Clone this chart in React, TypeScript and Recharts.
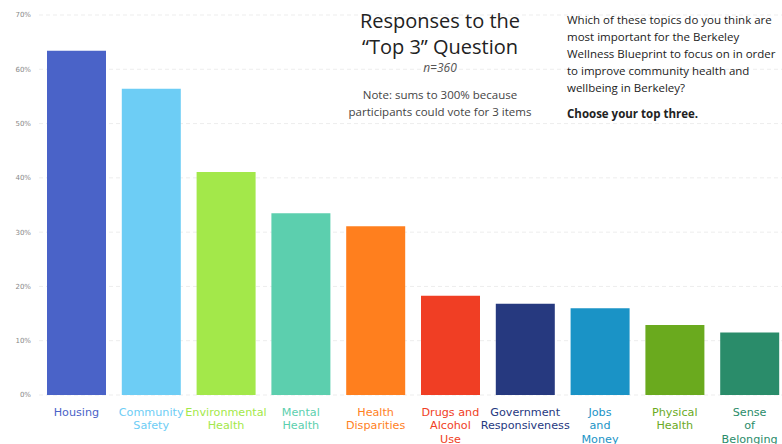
import React from 'react';
import { BarChart, Bar, XAxis, YAxis, CartesianGrid, Cell } from 'recharts';

const topics = [
  'Housing',
  'Community Safety',
  'Environmental Health',
  'Mental Health',
  'Health Disparities',
  'Drugs and Alcohol Use',
  'Government Responsiveness',
  'Jobs and Money',
  'Physical Health',
  'Sense of Belonging',
];

const labelLines = [
  ['Housing'],
  ['Community', 'Safety'],
  ['Environmental', 'Health'],
  ['Mental', 'Health'],
  ['Health', 'Disparities'],
  ['Drugs and', 'Alcohol', 'Use'],
  ['Government', 'Responsiveness'],
  ['Jobs', 'and', 'Money'],
  ['Physical', 'Health'],
  ['Sense', 'of', 'Belonging'],
];

const shares = [63.4, 56.4, 41.1, 33.5, 31.1, 18.3, 16.8, 16.0, 12.9, 11.5];

const colors = [
  '#4a63c8',
  '#6dcdf5',
  '#a3e84a',
  '#5ccfae',
  '#ff7f1e',
  '#f03e24',
  '#26397f',
  '#1a93c6',
  '#6aaa1e',
  '#2a8c6a',
];

const yTicks = [0, 10, 20, 30, 40, 50, 60, 70];

const data = topics.map((t, i) => ({ topic: t, value: shares[i] }));

const font = '"DejaVu Sans", Verdana, sans-serif';

function TopicTick(props: any) {
  const { x, y, payload } = props;
  const i = topics.indexOf(payload.value);
  const lines = labelLines[i] || [payload.value];
  return (
    <text x={x} y={y + 12.5} textAnchor="middle" fill={colors[i]} fontSize={11.2} fontFamily={font}>
      {lines.map((l, k) => (
        <tspan key={k} x={x} dy={k === 0 ? 0 : 13.5}>
          {l}
        </tspan>
      ))}
    </text>
  );
}

export default function App() {
  return (
    <div style={{ position: 'absolute', left: 0, top: 0, width: 782, height: 444, overflow: 'hidden', background: '#fff' }}>
      <BarChart width={787} height={444} data={data} margin={{ top: 15, right: 0, bottom: 0, left: 0 }} barSize={59}>
        <CartesianGrid vertical={false} stroke="#ededed" strokeDasharray="4 3" />
        <XAxis
          dataKey="topic"
          interval={0}
          height={49}
          axisLine={false}
          tickLine={false}
          tick={<TopicTick />}
        />
        <YAxis
          width={39}
          domain={[0, 70]}
          ticks={yTicks}
          tickFormatter={(v) => `${v}%`}
          axisLine={false}
          tickLine={false}
          tick={{ fontSize: 7, fill: '#888', fontFamily: font }}
        />
        <Bar dataKey="value" isAnimationActive={false}>
          {data.map((d, i) => (
            <Cell key={d.topic} fill={colors[i]} />
          ))}
        </Bar>
      </BarChart>

      <div style={{ position: 'absolute', left: 340, top: 8, width: 200, textAlign: 'center', fontFamily: '"Open Sans", sans-serif', color: '#222' }}>
        <div style={{ fontSize: 20, lineHeight: '26px' }}>Responses to the</div>
        <div style={{ fontSize: 20, lineHeight: '26px' }}>“Top 3” Question</div>
        <div style={{ fontSize: 12, fontStyle: 'italic', color: '#555', lineHeight: '16px' }}>n=360</div>
        <div style={{ fontSize: 11.5, color: '#444', lineHeight: '17px', marginTop: 10 }}>
          Note: sums to 300% because
          <br />
          participants could vote for 3 items
        </div>
      </div>

      <div style={{ position: 'absolute', left: 567, top: 11, width: 215, fontFamily: '"Open Sans", sans-serif', fontSize: 11.5, lineHeight: '17px', color: '#222' }}>
        <div>
          Which of these topics do you think are
          <br />
          most important for the Berkeley
          <br />
          Wellness Blueprint to focus on in order
          <br />
          to improve community health and
          <br />
          wellbeing in Berkeley?
        </div>
        <div style={{ fontWeight: 'bold', marginTop: 9 }}>Choose your top three.</div>
      </div>
    </div>
  );
}
